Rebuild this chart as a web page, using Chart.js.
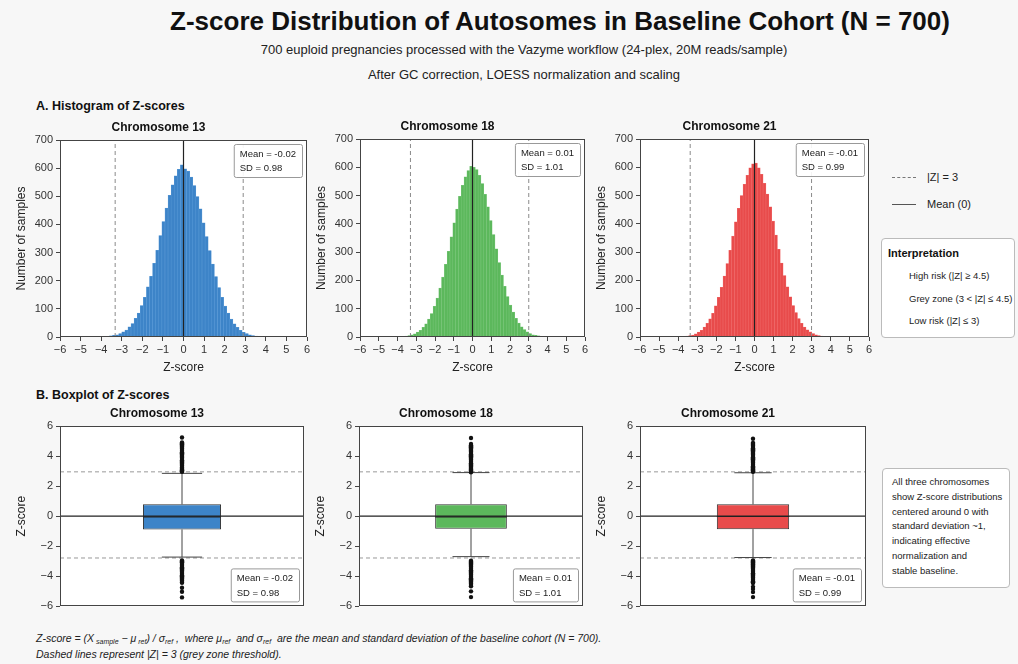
<!DOCTYPE html>
<html>
<head>
<meta charset="utf-8">
<script src="https://cdn.jsdelivr.net/npm/chart.js@4.4.1/dist/chart.umd.min.js"></script>
<style>
  body { margin: 0; background: #f7f7f7; font-family: "Liberation Sans", Arial, sans-serif; color: #222; }
  #page { position: relative; width: 1018px; height: 664px; overflow: hidden; }
  .abs { position: absolute; white-space: nowrap; }
  canvas { position: absolute; }
  .title { left: 0; width: 1120px; top: 5px; text-align: center; font-weight: bold; font-size: 26px; line-height: 32px; color: #111; }
  .sub { left: 0; width: 1048px; text-align: center; font-size: 13px; line-height: 16px; color: #222; }
  .section { left: 36px; font-weight: bold; font-size: 12.5px; line-height: 16px; color: #111; }
  .leg-line { width: 24px; height: 0; border-top: 1.2px solid #555; }
  .leg-line.dash { border-top: 1.2px dashed #777; }
  .leg-text { font-size: 11px; line-height: 14px; color: #222; }
  .box { border: 1px solid #bbb; border-radius: 4px; background: #fff; }
  .small { font-size: 9.5px; line-height: 14px; color: #222; }
  .foot { left: 36px; font-style: italic; font-size: 10.5px; line-height: 14px; color: #222; }
  .foot sub { font-size: 7px; vertical-align: -2px; }
</style>
</head>
<body>
<div id="page">
  <div class="abs title">Z-score Distribution of Autosomes in Baseline Cohort (N = 700)</div>
  <div class="abs sub" style="top:42px">700 euploid pregnancies processed with the Vazyme workflow (24-plex, 20M reads/sample)</div>
  <div class="abs sub" style="top:67px">After GC correction, LOESS normalization and scaling</div>

  <div class="abs section" style="top:98px">A. Histogram of Z-scores</div>
  <div class="abs section" style="top:387px">B. Boxplot of Z-scores</div>

  <canvas id="h13" width="305" height="265" style="left:10px;top:112px"></canvas>
  <canvas id="h18" width="283" height="266" style="left:310px;top:111px"></canvas>
  <canvas id="h21" width="287" height="266" style="left:590px;top:111px"></canvas>

  <canvas id="b13" width="302" height="216" style="left:10px;top:400px"></canvas>
  <canvas id="b18" width="282" height="216" style="left:309px;top:400px"></canvas>
  <canvas id="b21" width="284" height="216" style="left:590px;top:400px"></canvas>

  <div class="abs leg-line dash" style="left:892px;top:177px"></div>
  <div class="abs leg-text" style="left:927px;top:170px">|Z| = 3</div>
  <div class="abs leg-line" style="left:892px;top:204px"></div>
  <div class="abs leg-text" style="left:927px;top:197px">Mean (0)</div>

  <div class="abs box" style="left:881px;top:238px;width:132px;height:98px"></div>
  <div class="abs" style="left:888px;top:246px;font-weight:bold;font-size:11px;line-height:14px;color:#111">Interpretation</div>
  <div class="abs" style="left:885px;top:263px;width:20px;height:64px;background:#fff"></div>
  <div class="abs small" style="left:909px;top:269px">High risk (|Z| ≥ 4.5)</div>
  <div class="abs small" style="left:909px;top:292px">Grey zone (3 &lt; |Z| ≤ 4.5)</div>
  <div class="abs small" style="left:909px;top:314px">Low risk (|Z| ≤ 3)</div>

  <div class="abs box" style="left:882px;top:468px;width:126px;height:118px"></div>
  <div class="abs small" style="left:892px;top:475px;line-height:14.8px;font-size:9.5px">All three chromosomes<br>show Z-score distributions<br>centered around 0 with<br>standard deviation ~1,<br>indicating effective<br>normalization and<br>stable baseline.</div>

  <div class="abs foot" style="top:631px">Z-score = (X<sub> sample</sub> − μ<sub> ref</sub>) / σ<sub>ref</sub> ,&nbsp; where μ<sub>ref</sub>&nbsp; and σ<sub>ref</sub>&nbsp; are the mean and standard deviation of the baseline cohort (N = 700).</div>
  <div class="abs foot" style="top:647px">Dashed lines represent |Z| = 3 (grey zone threshold).</div>
</div>

<script>
const chromosomes = ["Chromosome 13", "Chromosome 18", "Chromosome 21"];

// histogram bins, width 0.15, first bin centred at -3.975
const binWidth = 0.15;
const firstBinCenter = -3.975;

const counts13 = [
  1, 1, 2, 4, 6, 8, 12, 18, 25, 36, 48, 66, 85, 112, 141, 178, 216, 262, 308, 360, 410, 458, 503, 541, 573, 596, 612,
  598, 590, 568, 538, 499, 455, 406, 357, 307, 259, 215, 176, 141, 110, 85, 64, 47, 34, 24, 17, 12, 8, 5, 3, 2, 1, 1
];
const counts18 = [
  1, 1, 2, 3, 5, 8, 11, 17, 24, 34, 47, 63, 83, 108, 138, 173, 212, 257, 303, 354, 404, 452, 497, 536, 566, 588, 603,
  600, 592, 572, 542, 504, 460, 412, 362, 312, 263, 219, 179, 143, 113, 88, 66, 49, 36, 26, 18, 12, 8, 6, 4, 2, 1, 1
];
const counts21 = [
  1, 1, 2, 3, 5, 7, 11, 17, 24, 35, 48, 64, 84, 110, 140, 176, 215, 260, 306, 357, 407, 455, 500, 540, 572, 598, 612,
  615, 598, 575, 543, 505, 460, 410, 360, 310, 261, 217, 177, 142, 111, 86, 65, 48, 35, 25, 18, 12, 8, 5, 3, 2, 1, 1
];

const threshLow = [-3.32, -3.31, -3.37];
const threshHigh = [2.9, 3.0, 2.99];
const statMean = ["-0.02", "0.01", "-0.01"];
const statSD = ["0.98", "1.01", "0.99"];

// boxplot summaries
const boxQ1 = [-0.88, -0.84, -0.86];
const boxMedian = [-0.04, -0.04, -0.02];
const boxQ3 = [0.79, 0.8, 0.79];
const whiskerLow = [-2.72, -2.69, -2.75];
const whiskerHigh = [2.85, 2.9, 2.89];
const boxDashedHigh = 2.95;
const boxDashedLow = -2.78;

const outliersHigh = [
  [2.95, 3.0, 3.05, 3.1, 3.16, 3.22, 3.28, 3.35, 3.42, 3.5, 3.57, 3.64, 3.72, 3.8, 3.88, 3.95, 4.02, 4.1, 4.18, 4.25, 4.33, 4.4, 4.48, 4.56, 4.63, 4.7, 4.78, 4.85, 4.9, 5.24],
  [2.92, 2.98, 3.04, 3.1, 3.16, 3.22, 3.3, 3.37, 3.44, 3.52, 3.6, 3.67, 3.75, 3.82, 3.9, 3.98, 4.05, 4.12, 4.2, 4.28, 4.35, 4.42, 4.5, 4.58, 4.65, 4.72, 4.8, 5.2],
  [2.95, 3.0, 3.06, 3.12, 3.18, 3.25, 3.32, 3.4, 3.47, 3.55, 3.62, 3.7, 3.78, 3.85, 3.92, 4.0, 4.08, 4.15, 4.22, 4.3, 4.38, 4.45, 4.52, 4.6, 4.68, 4.75, 4.82, 4.88, 5.15]
];
const outliersLow = [
  [-2.95, -3.0, -3.06, -3.12, -3.18, -3.25, -3.32, -3.4, -3.47, -3.55, -3.62, -3.7, -3.78, -3.85, -3.92, -4.0, -4.08, -4.15, -4.22, -4.3, -4.37, -4.43, -4.76, -5.03, -5.4],
  [-2.96, -3.02, -3.08, -3.15, -3.22, -3.3, -3.37, -3.45, -3.52, -3.6, -3.68, -3.75, -3.82, -3.9, -3.98, -4.05, -4.12, -4.2, -4.28, -4.35, -4.42, -4.5, -4.58, -4.66, -5.0, -5.38],
  [-2.95, -3.0, -3.07, -3.14, -3.2, -3.28, -3.35, -3.42, -3.5, -3.58, -3.65, -3.72, -3.8, -3.88, -3.95, -4.02, -4.1, -4.18, -4.25, -4.32, -4.4, -4.45, -4.7, -4.85, -5.05, -5.38]
];

const fills = ["#3d84c8", "#5cb85c", "#e84b4b"];
const edges = ["#5b9bd8", "#7cc87c", "#f06a6a"];

Chart.defaults.font.family = '"Liberation Sans", Arial, sans-serif';
Chart.defaults.font.size = 11;
Chart.defaults.color = "#333";
Chart.defaults.animation = false;
Chart.defaults.plugins.legend.display = false;
Chart.defaults.plugins.tooltip.enabled = false;

const minus = (v) => String(v).replace("-", "\u2212");

// white plot background, full frame and the Mean / SD box
const panelPlugin = {
  id: "panel",
  beforeDraw(chart) {
    const { ctx, chartArea: a } = chart;
    ctx.save();
    ctx.fillStyle = "#fff";
    ctx.fillRect(a.left, a.top, a.width, a.height);
    ctx.restore();
  },
  afterDraw(chart, args, opts) {
    const { ctx, chartArea: a } = chart;
    ctx.save();
    ctx.strokeStyle = "#444";
    ctx.lineWidth = 1;
    ctx.strokeRect(Math.round(a.left) + 0.5, Math.round(a.top) + 0.5, Math.round(a.width) - 1, Math.round(a.height) - 1);
    if (opts.lines) {
      ctx.font = '9.5px "Liberation Sans", Arial, sans-serif';
      const w = Math.max(...opts.lines.map((t) => ctx.measureText(t).width)) + 12;
      const h = 33;
      const x = a.right - 5 - w;
      const y = opts.corner === "bottom" ? a.bottom - 5 - h : a.top + 4;
      ctx.beginPath();
      ctx.roundRect(x + 0.5, y + 0.5, w, h, 2);
      ctx.fillStyle = "rgba(255,255,255,0.9)";
      ctx.fill();
      ctx.strokeStyle = "#999";
      ctx.stroke();
      ctx.fillStyle = "#222";
      ctx.textBaseline = "middle";
      opts.lines.forEach((t, k) => ctx.fillText(t, x + 6, y + 10 + k * 14.5));
    }
    ctx.restore();
  },
};

const tickGrid = { display: true, drawOnChartArea: false, drawTicks: true, tickLength: 4, color: "#444", offset: false };

function vline(x, y0, y1, color, dash, width) {
  return {
    type: "line",
    data: [{ x: x, y: y0 }, { x: x, y: y1 }],
    borderColor: color,
    borderWidth: width,
    borderDash: dash,
    pointRadius: 0,
    order: 1,
  };
}

function hline(x0, x1, y, color, dash, width, order) {
  return {
    type: "line",
    data: [{ x: x0, y: y }, { x: x1, y: y }],
    borderColor: color,
    borderWidth: width,
    borderDash: dash,
    pointRadius: 0,
    order: order,
  };
}

function histogramChart(id, i, counts) {
  const bars = counts.map((c, k) => ({ x: firstBinCenter + k * binWidth, y: c }));
  new Chart(document.getElementById(id), {
    type: "bar",
    data: {
      datasets: [
        {
          data: bars,
          backgroundColor: fills[i],
          borderColor: edges[i],
          borderWidth: 0.5,
          barPercentage: 1,
          categoryPercentage: 1,
          order: 2,
        },
        vline(threshLow[i], 0, 700, "#8a8a8a", [4, 3], 1),
        vline(threshHigh[i], 0, 700, "#8a8a8a", [4, 3], 1),
        vline(0, 0, 700, "#222", [], 1.2),
      ],
    },
    options: {
      responsive: false,
      devicePixelRatio: 1,
      layout: { padding: { left: 0, right: 8, top: 0, bottom: 0 } },
      plugins: {
        title: {
          display: true,
          text: chromosomes[i],
          color: "#111",
          font: { size: 12, weight: "bold" },
          padding: { top: 8, bottom: 5.6 },
        },
        panel: { lines: ["Mean = " + statMean[i], "SD = " + statSD[i]], corner: "top" },
      },
      scales: {
        x: {
          type: "linear",
          min: -6,
          max: 6,
          offset: false,
          grid: tickGrid,
          border: { display: false },
          ticks: { stepSize: 1, padding: 2, callback: minus, maxRotation: 0 },
          title: { display: true, text: "Z-score", font: { size: 12 }, color: "#222", padding: { top: 2, bottom: 2 } },
          afterFit: (s) => { s.height = 40; },
        },
        y: {
          min: 0,
          max: 700,
          grid: tickGrid,
          border: { display: false },
          ticks: { stepSize: 100, padding: 3 },
          title: { display: true, text: "Number of samples", font: { size: 12 }, color: "#222", padding: { top: 4, bottom: 2 } },
          afterFit: (s) => { s.width = 50; },
        },
      },
    },
    plugins: [panelPlugin],
  });
}

function boxChart(id, i) {
  const half = 0.32;
  const cap = 0.165;
  const pts = outliersHigh[i].concat(outliersLow[i]).map((v) => ({ x: 0, y: v }));
  new Chart(document.getElementById(id), {
    type: "bar",
    data: {
      datasets: [
        {
          data: [{ x: 0, y: [boxQ1[i], boxQ3[i]] }],
          backgroundColor: fills[i],
          borderColor: "#333",
          borderWidth: 1,
          borderSkipped: false,
          // tick spacing on this axis is half its length
          barPercentage: 0.64,
          categoryPercentage: 1,
          order: 1,
        },
        hline(-1, 1, 0, "#222", [], 1.2, 0),
        hline(-half, half, boxMedian[i], "#222", [], 1.2, 0),
        hline(-1, 1, boxDashedHigh, "#999", [4, 3], 1, 3),
        hline(-1, 1, boxDashedLow, "#999", [4, 3], 1, 3),
        Object.assign(vline(0, boxQ3[i], whiskerHigh[i], "#444", [], 1), { order: 2 }),
        Object.assign(vline(0, whiskerLow[i], boxQ1[i], "#444", [], 1), { order: 2 }),
        hline(-cap, cap, whiskerHigh[i], "#444", [], 1, 2),
        hline(-cap, cap, whiskerLow[i], "#444", [], 1, 2),
        {
          type: "line",
          data: pts,
          showLine: false,
          pointRadius: 2.2,
          pointBackgroundColor: "#111",
          pointBorderWidth: 0,
          order: 0,
        },
      ],
    },
    options: {
      responsive: false,
      devicePixelRatio: 1,
      layout: { padding: { left: 0, right: 8, top: 0, bottom: 8 } },
      plugins: {
        title: {
          display: true,
          text: chromosomes[i],
          color: "#111",
          font: { size: 12, weight: "bold" },
          padding: { top: 6.8, bottom: 4.8 },
        },
        panel: { lines: ["Mean = " + statMean[i], "SD = " + statSD[i]], corner: "bottom" },
      },
      scales: {
        x: {
          type: "linear",
          min: -1,
          max: 1,
          offset: false,
          grid: { display: false, offset: false },
          border: { display: false },
          ticks: { display: false, stepSize: 2 },
          afterFit: (s) => { s.height = 0; },
        },
        y: {
          min: -6,
          max: 6,
          grid: tickGrid,
          border: { display: false },
          ticks: { stepSize: 2, padding: 3, callback: minus },
          title: { display: true, text: "Z-score", font: { size: 12 }, color: "#222", padding: { top: 4, bottom: 2 } },
          afterFit: (s) => { s.width = 50; },
        },
      },
    },
    plugins: [panelPlugin],
  });
}

histogramChart("h13", 0, counts13);
histogramChart("h18", 1, counts18);
histogramChart("h21", 2, counts21);
boxChart("b13", 0);
boxChart("b18", 1);
boxChart("b21", 2);
</script>
</body>
</html>
